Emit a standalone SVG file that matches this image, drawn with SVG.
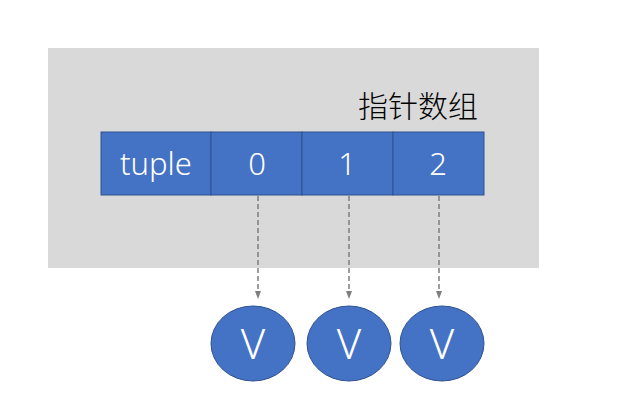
<svg xmlns="http://www.w3.org/2000/svg" width="626" height="407" viewBox="0 0 626 407">
<defs>
<style>
.cell{fill:#4472c4;stroke:#2f528f;stroke-width:1}
.lbl{font-family:"Noto Sans","Liberation Sans","Noto Sans CJK SC",sans-serif;font-weight:300;fill:#fff;text-anchor:middle}
.conn{stroke:#7f7f7f;stroke-width:1.5;stroke-dasharray:5,3;fill:none}
.node{fill:#4472c4;stroke:#2f528f;stroke-width:1}
</style>
<marker id="arr" markerWidth="8" markerHeight="8" refX="4" refY="4" orient="auto" markerUnits="userSpaceOnUse">
<path d="M0,1 L8,4 L0,7 Z" fill="#7f7f7f"/>
</marker>
</defs>
<rect width="626" height="407" fill="#fff"/>
<g id="container">
<rect x="48" y="48" width="491" height="220" fill="#d9d9d9"/>
<text x="418" y="117" font-family="'Noto Sans CJK SC',sans-serif" font-size="30" font-weight="300" fill="#000" text-anchor="middle">指针数组</text>
</g>
<g id="array">
<rect class="cell" x="101" y="132" width="110" height="63"/>
<rect class="cell" x="211" y="132" width="91" height="63"/>
<rect class="cell" x="302" y="132" width="91" height="63"/>
<rect class="cell" x="393" y="132" width="91" height="63"/>
<text class="lbl" x="156" y="175" font-size="31">tuple</text>
<text class="lbl" x="257" y="175" font-size="31">0</text>
<text class="lbl" x="347" y="175" font-size="31">1</text>
<text class="lbl" x="438" y="175" font-size="31">2</text>
</g>
<g id="connectors">
<line class="conn" x1="258" y1="196" x2="258" y2="295" marker-end="url(#arr)"/>
<line class="conn" x1="349" y1="196" x2="349" y2="295" marker-end="url(#arr)"/>
<line class="conn" x1="439" y1="196" x2="439" y2="295" marker-end="url(#arr)"/>
</g>
<g id="v0">
<ellipse class="node" cx="253" cy="343.5" rx="42" ry="37.5"/>
<text class="lbl" x="253" y="359" font-size="42">V</text>
</g>
<g id="v1">
<ellipse class="node" cx="349" cy="343.5" rx="42" ry="37.5"/>
<text class="lbl" x="349" y="359" font-size="42">V</text>
</g>
<g id="v2">
<ellipse class="node" cx="442" cy="343.5" rx="42" ry="37.5"/>
<text class="lbl" x="442" y="359" font-size="42">V</text>
</g>
</svg>
